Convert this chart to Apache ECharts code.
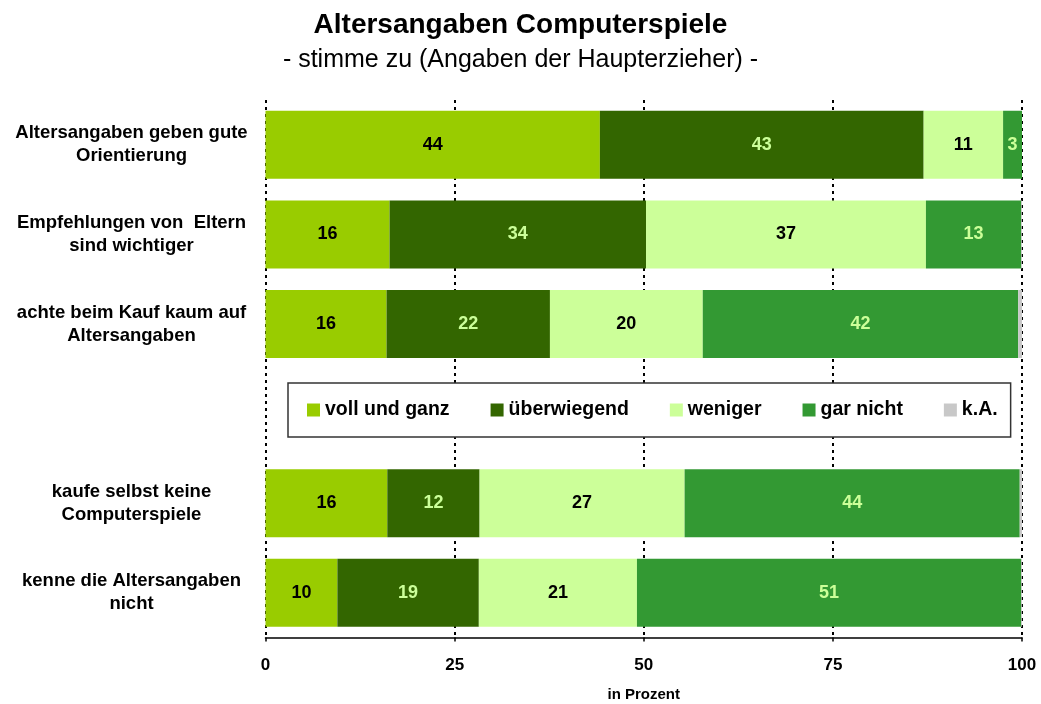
<!DOCTYPE html>
<html>
<head>
<meta charset="utf-8">
<script src="https://cdn.jsdelivr.net/npm/echarts@6/dist/echarts.min.js"></script>
<style>
  html, body { margin: 0; padding: 0; background: #fff; }
  #chart { width: 1041px; height: 704px; }
</style>
</head>
<body>
<div id="chart"></div>
<script>
// rows from top to bottom, empty slot holds the legend
let categories = [
    'Altersangaben geben gute\nOrientierung',
    'Empfehlungen von  Eltern\nsind wichtiger',
    'achte beim Kauf kaum auf\nAltersangaben',
    '',
    'kaufe selbst keine\nComputerspiele',
    'kenne die Altersangaben\nnicht'
];
let seriesNames = ['voll und ganz', 'überwiegend', 'weniger', 'gar nicht', 'k.A.'];
let vollUndGanz = [44.2, 16.4, 16.0, null, 16.1, 9.5];
let ueberwiegend = [42.8, 33.9, 21.6, null, 12.2, 18.7];
let weniger = [10.5, 37.0, 20.2, null, 27.1, 20.9];
let garNicht = [2.5, 12.6, 41.7, null, 44.3, 50.8];
let keineAngabe = [0.2, 0.1, 0.5, null, 0.3, 0.1];
let xTicks = [0, 25, 50, 75, 100];

let colors = ['#99cc00', '#336600', '#ccff99', '#339933', '#c8c8c8'];
let labelColors = ['#000', '#ccff99', '#000', '#ccff99', '#000'];
let font = '"Liberation Sans", Arial, sans-serif';

function makeSeries(name, values, i){
    return {
        name: name,
        type: 'bar',
        stack: 'all',
        barWidth: 68,
        data: values,
        itemStyle: { color: colors[i] },
        label: {
            show: i < 4,
            position: 'inside',
            color: labelColors[i],
            fontFamily: font,
            fontWeight: 'bold',
            fontSize: 18,
            formatter: function(p){ return Math.round(p.value); }
        },
        emphasis: { disabled: true }
    };
}

let myChart = echarts.init(document.getElementById('chart'));
let option = {
    animation: false,
    title: [
        {
            text: 'Altersangaben Computerspiele',
            left: 'center', top: 6,
            textStyle: { fontFamily: font, fontWeight: 'bold', fontSize: 28, color: '#000' }
        },
        {
            text: '- stimme zu (Angaben der Haupterzieher) -',
            left: 'center', top: 43,
            textStyle: { fontFamily: font, fontWeight: 'normal', fontSize: 25, color: '#000' }
        }
    ],
    legend: {
        data: seriesNames,
        left: 288, top: 383,
        orient: 'horizontal',
        padding: [17, 13, 17, 19],
        itemGap: 41,
        itemWidth: 13,
        itemHeight: 13,
        icon: 'rect',
        backgroundColor: '#fff',
        borderColor: '#333',
        borderWidth: 1.5,
        selectedMode: false,
        textStyle: { fontFamily: font, fontWeight: 'bold', fontSize: 19.5, color: '#000' }
    },
    grid: { left: 265.5, right: 19, top: 100, bottom: 66.5, containLabel: false, outerBoundsMode: 'none' },
    xAxis: {
        type: 'value',
        min: 0, max: 100, interval: 25,
        name: 'in Prozent',
        nameLocation: 'middle',
        nameGap: 50,
        nameTextStyle: { fontFamily: font, fontWeight: 'bold', fontSize: 15, color: '#000' },
        axisLine: { show: true, lineStyle: { color: '#000', width: 1.5 } },
        axisTick: { show: true, length: 4, lineStyle: { color: '#000', width: 1.5 } },
        axisLabel: {
            margin: 19,
            fontFamily: font, fontWeight: 'bold', fontSize: 17, color: '#000',
            formatter: function(v){ return xTicks.indexOf(v) >= 0 ? v : ''; }
        },
        splitLine: { show: true, lineStyle: { color: '#000', width: 2, type: [3, 4] } }
    },
    yAxis: {
        type: 'category',
        data: categories,
        inverse: true,
        axisLine: { show: false },
        axisTick: { show: false },
        axisLabel: {
            align: 'center',
            margin: 134,
            lineHeight: 23,
            fontFamily: font, fontWeight: 'bold', fontSize: 18.5, color: '#000'
        }
    },
    series: [
        makeSeries(seriesNames[0], vollUndGanz, 0),
        makeSeries(seriesNames[1], ueberwiegend, 1),
        makeSeries(seriesNames[2], weniger, 2),
        makeSeries(seriesNames[3], garNicht, 3),
        makeSeries(seriesNames[4], keineAngabe, 4)
    ]
};
myChart.setOption(option);

window.addEventListener('resize', function(){
    myChart.resize();
});
</script>
</body>
</html>
